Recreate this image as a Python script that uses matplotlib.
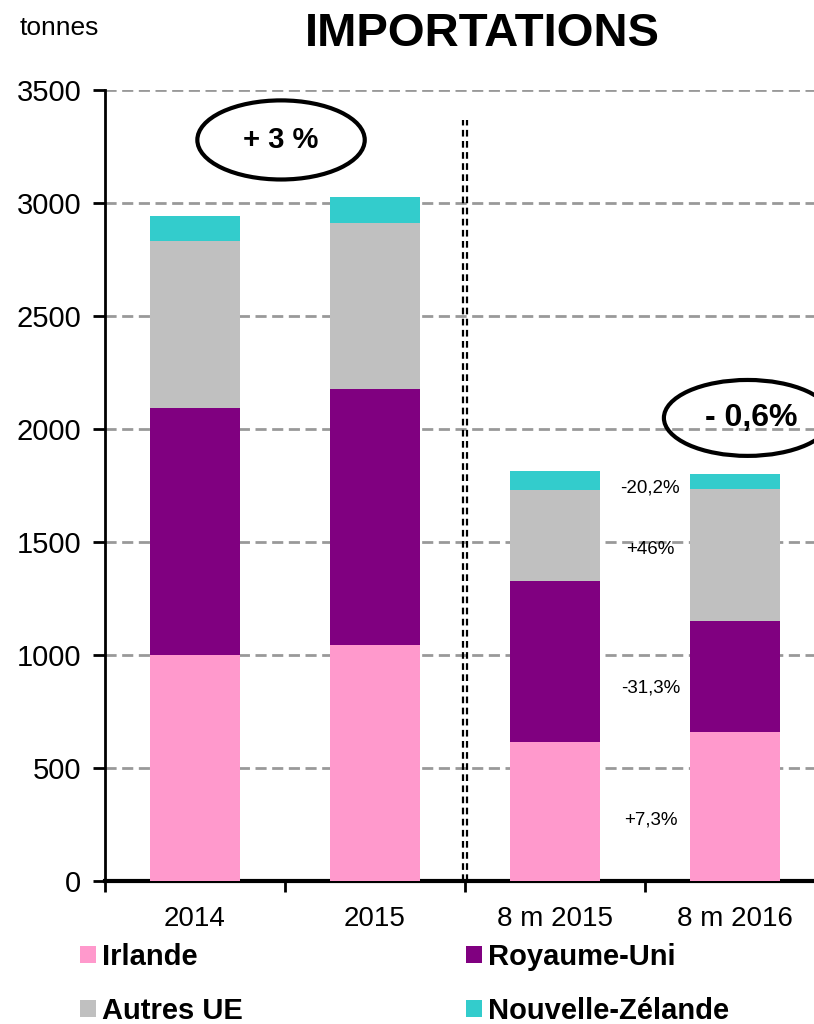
import matplotlib
matplotlib.use("Agg")
import matplotlib.pyplot as plt
from matplotlib.patches import Ellipse, Patch
import numpy as np

categories = ["2014", "2015", "8 m 2015", "8 m 2016"]
series_names = ["Irlande", "Royaume-Uni", "Autres UE", "Nouvelle-Zélande"]
irlande = [1000, 1044, 615, 659]
royaume_uni = [1093, 1133, 712, 491]
autres_ue = [739, 735, 403, 585]
nouvelle_zelande = [110, 115, 84, 66]
colors = ["#FF99CC", "#800080", "#C0C0C0", "#33CCCC"]
var_labels = ["-20,2%", "+46%", "-31,3%", "+7,3%"]
var_y = [1739, 1469, 854, 270]
y_ticks = [0, 500, 1000, 1500, 2000, 2500, 3000, 3500]

FONT = ["Liberation Sans Narrow", "Liberation Sans", "DejaVu Sans"]
plt.rcParams["font.family"] = FONT

fig = plt.figure(figsize=(8.14, 10.24), dpi=100)
left = 105 / 814
bottom = 1 - 881 / 1024
height = (881 - 90) / 1024
width = (825 - 105) / 814
ax = fig.add_axes([left, bottom, width, height])

x = np.arange(len(categories))
series = [irlande, royaume_uni, autres_ue, nouvelle_zelande]
base = np.zeros(len(categories))
for vals, col, name in zip(series, colors, series_names):
    ax.bar(x, vals, width=0.5, bottom=base, color=col, zorder=3, label=name)
    base = base + np.array(vals)

ax.set_xlim(-0.5, 3.5)
ax.set_ylim(0, 3500)
ax.set_yticks(y_ticks)
ax.set_yticklabels([str(t) for t in y_ticks], fontsize=21)
ax.yaxis.grid(True, color="#999999", linestyle=(0, (4, 2)), linewidth=2, zorder=0)
ax.set_axisbelow(True)

ax.set_xticks(np.arange(-0.5, 4, 1.0))
ax.set_xticklabels([])
ax.set_xticks(x, minor=True)
ax.set_xticklabels(categories, minor=True, fontsize=20)
ax.tick_params(axis="x", which="major", length=8, width=2, direction="out")
ax.tick_params(axis="x", which="minor", length=0, pad=18)
ax.tick_params(axis="y", length=9, width=2, direction="out", pad=8)

for s in ["top", "right"]:
    ax.spines[s].set_visible(False)
ax.spines["left"].set_linewidth(2)
ax.spines["bottom"].set_linewidth(3)

# double dashed separator
for dx in (-0.011, 0.011):
    ax.axvline(1.5 + dx, ymin=0, ymax=0.962, color="black", linestyle=(0, (3, 2)),
               linewidth=1.6, zorder=4)

# ellipses
ax.add_patch(Ellipse((0.478, 3279), 0.93, 350, fill=False, edgecolor="black", lw=3, zorder=5, clip_on=False))
ax.text(0.478, 3279, "+ 3 %", ha="center", va="center", fontsize=21, fontweight="bold", zorder=6)
ax.add_patch(Ellipse((3.07, 2049), 0.93, 336, fill=False, edgecolor="black", lw=3, zorder=5, clip_on=False))
ax.text(3.09, 2049, "- 0,6%", ha="center", va="center", fontsize=23, fontweight="bold", zorder=6)

for lab, yy in zip(var_labels, var_y):
    ax.text(2.53, yy, lab, ha="center", va="center", fontsize=13.5, zorder=6)

fig.text(20 / 814, 1 - 28 / 1024, "tonnes", ha="left", va="center", fontsize=19)
fig.text(482 / 814, 1 - 34 / 1024, "IMPORTATIONS", ha="center", va="center",
         fontsize=34, fontweight="bold")

handles = [Patch(facecolor=c, edgecolor="none") for c in colors]
order = [0, 2, 1, 3]
leg = fig.legend([handles[i] for i in order], [series_names[i] for i in order],
                 ncol=2, loc="upper left", bbox_to_anchor=(80 / 814, 1 - 943 / 1024),
                 frameon=False, borderpad=0, borderaxespad=0,
                 handlelength=0.55, handleheight=0.55, handletextpad=0.2,
                 columnspacing=7.65, labelspacing=0.88,
                 prop={"family": FONT, "weight": "bold", "size": 21})

fig.savefig("out.png", dpi=100)
